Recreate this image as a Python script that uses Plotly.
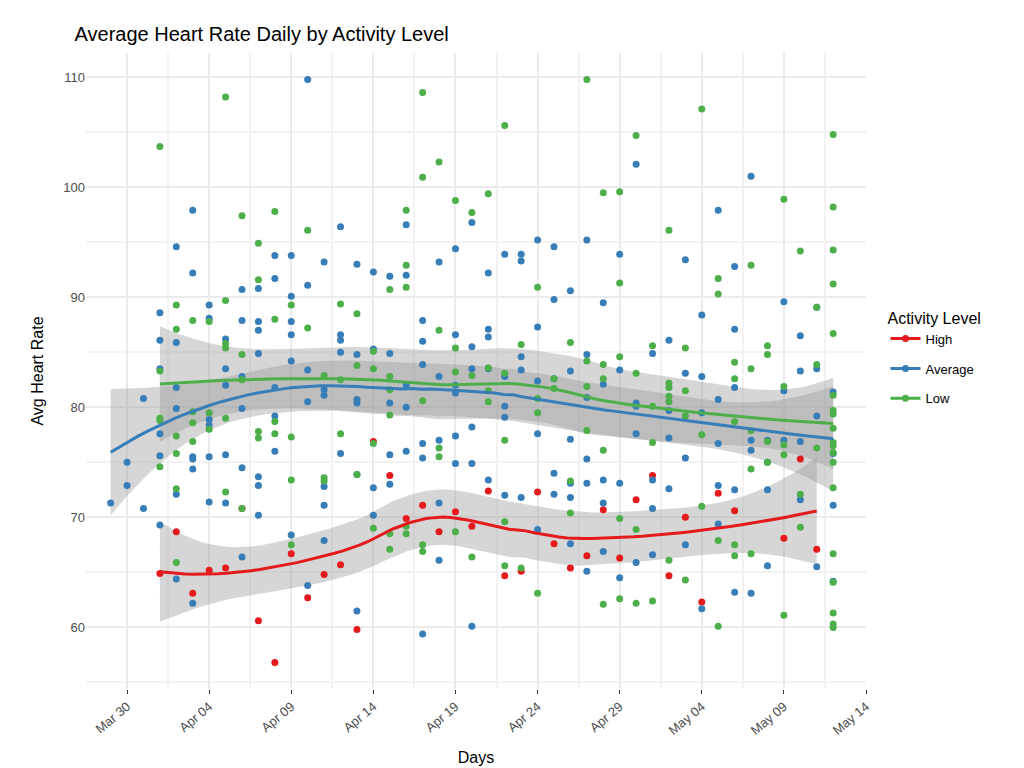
import numpy as np
import pandas as pd
import plotly.graph_objects as go

start = pd.Timestamp('2024-03-29')

# day offset from Mar 29 -> values, per activity level
high_days = [3, 4, 5, 6, 7, 8, 9, 10, 11, 12, 13, 14, 15, 16, 17, 18, 19, 20, 21, 22,
             23, 24, 25, 26, 27, 28, 29, 30, 31, 32, 33, 34, 35, 36, 37, 38, 41, 42, 43]
high_vals = [64.9, 68.7, 63.1, 65.2, 65.4, 70.8, 60.6, 56.8, 66.7, 62.7, 64.8, 65.7, 59.8, 76.9,
             73.8, 69.9, 71.1, 68.7, 70.5, 69.2, 72.4, 64.7, 65.1, 72.3, 67.6, 65.4, 66.5, 70.7,
             66.3, 71.6, 73.8, 64.7, 70.0, 62.3, 72.2, 70.6, 68.1, 75.3, 67.1]

avg_days = [0, 1, 1, 2, 2,
            3, 3, 3, 3, 3, 3,
            4, 4, 4, 4, 4, 4,
            5, 5, 5, 5, 5, 5,
            6, 6, 6, 6, 6, 6,
            7, 7, 7, 7, 7,
            8, 8, 8, 8, 8, 8,
            9, 9, 9, 9, 9, 9, 9,
            10, 10, 10, 10, 10,
            11, 11, 11, 11, 11, 11,
            12, 12, 12, 12, 12,
            13, 13, 13, 13, 13, 13,
            14, 14, 14, 14, 14,
            15, 15, 15, 15, 15, 15,
            16, 16, 16, 16,
            17, 17, 17, 17, 17,
            18, 18, 18, 18, 18,
            19, 19, 19, 19, 19, 19,
            20, 20, 20, 20, 20,
            21, 21, 21, 21, 21, 21,
            22, 22, 22, 22, 22, 22,
            23, 23, 23, 23, 23,
            24, 24, 24, 24, 24,
            25, 25, 25, 25, 25,
            26, 26, 26, 26, 26,
            27, 27, 27, 27, 27,
            28, 28, 28, 28, 28, 28,
            29, 29, 29, 29, 29, 29,
            30, 30, 30, 30, 30,
            31, 31, 31, 31,
            32, 32, 32, 32, 32,
            33, 33, 33, 33,
            34, 34, 34, 34,
            35, 35, 35, 35,
            36, 36, 36, 36,
            37, 37, 37, 37, 37,
            38, 38, 38, 38, 38,
            39, 39, 39, 39,
            40, 40, 40, 40,
            41, 41, 41,
            42, 42, 42, 42,
            43, 43, 43, 43,
            44, 44, 44, 44]
avg_vals = [71.3, 75.0, 72.9, 80.8, 70.8,
            88.6, 86.1, 83.5, 77.6, 75.6, 69.3,
            94.6, 85.9, 81.8, 79.9, 72.1, 64.4,
            97.9, 92.2, 75.5, 75.3, 74.4, 62.2,
            89.3, 88.1, 78.9, 78.4, 75.5, 71.4,
            86.2, 83.5, 82.0, 75.7, 71.3,
            90.7, 87.9, 82.8, 79.9, 74.5, 66.4,
            90.8, 87.8, 87.0, 84.9, 73.7, 72.9, 70.2,
            93.8, 91.7, 81.8, 79.2, 76.0,
            93.8, 90.1, 87.8, 86.6, 84.2, 68.4,
            109.8, 91.1, 83.4, 80.5, 63.8,
            93.2, 81.6, 81.1, 72.8, 71.1, 67.9,
            96.4, 86.6, 86.1, 85.0, 75.8,
            93.0, 84.8, 80.7, 80.4, 73.9, 61.5,
            92.3, 85.3, 72.7, 70.2,
            91.9, 84.9, 80.4, 75.7, 73.0,
            96.6, 92.0, 82.0, 80.0, 76.0,
            87.9, 86.0, 83.9, 76.7, 75.4, 59.4,
            93.2, 82.8, 77.0, 71.3, 66.1,
            94.4, 86.6, 82.0, 81.3, 77.4, 74.9,
            96.8, 85.5, 83.5, 78.2, 74.9, 60.1,
            92.2, 87.1, 86.4, 83.5, 73.4,
            93.9, 82.8, 80.1, 79.1, 72.0,
            93.9, 93.3, 84.6, 83.4, 71.8,
            95.2, 87.3, 82.4, 77.6, 68.9,
            94.6, 89.8, 82.6, 74.0, 72.1,
            90.6, 83.3, 77.1, 73.1, 71.8, 67.6,
            95.2, 84.8, 80.9, 75.3, 73.1, 65.1,
            89.5, 82.1, 73.4, 71.3, 66.9,
            93.9, 83.4, 73.1, 64.5,
            102.1, 80.4, 80.1, 77.6, 65.9,
            84.9, 73.4, 70.8, 66.6,
            86.1, 79.7, 77.2, 72.6,
            93.4, 83.1, 75.4, 67.5,
            88.4, 82.8, 79.5, 61.7,
            97.9, 80.7, 76.7, 72.9, 69.4,
            92.8, 87.1, 81.8, 72.5, 63.2,
            101.0, 77.0, 76.1, 63.1,
            77.0, 75.0, 72.5, 65.6,
            89.6, 81.5, 77.0,
            86.5, 83.3, 76.9, 71.6,
            89.1, 83.5, 79.2, 65.5,
            81.4, 75.8, 71.1, 64.2]

low_days = [3, 3, 3, 3, 3,
            4, 4, 4, 4, 4, 4,
            5, 5, 5, 5,
            6, 6, 6,
            7, 7, 7, 7, 7, 7,
            8, 8, 8, 8,
            9, 9, 9, 9,
            10, 10, 10, 10,
            11, 11, 11, 11,
            12, 12,
            13, 13, 13,
            14, 14, 14,
            15, 15, 15,
            16, 16, 16, 16,
            17, 17, 17, 17, 17, 17,
            18, 18, 18, 18, 18,
            19, 19, 19, 19, 19,
            20, 20, 20, 20,
            21, 21, 21, 21,
            22, 22, 22,
            23, 23, 23, 23,
            24, 24, 24, 24, 24,
            25, 25,
            26, 26, 26, 26,
            27, 27,
            28, 28, 28,
            29, 29, 29, 29,
            30, 30, 30, 30, 30,
            31, 31, 31, 31, 31,
            32, 32, 32, 32,
            33, 33, 33, 33,
            34, 34, 34, 34, 34, 34,
            35, 35, 35, 35,
            36, 36, 36,
            37, 37, 37, 37,
            38, 38, 38, 38, 38,
            39, 39, 39, 39, 39,
            40, 40, 40, 40,
            41, 41, 41, 41, 41,
            42, 42, 42,
            43, 43, 43,
            44, 44, 44]
low_vals = [103.7, 83.3, 79.0, 78.8, 74.6,
            89.3, 87.1, 77.4, 75.8, 72.6, 65.9,
            87.9, 79.6, 78.6, 76.9,
            87.8, 79.5, 78.0, 72.3,
            108.2, 89.7, 85.8, 85.4, 79.0, 70.8,
            97.4, 84.8, 82.5, 77.8, 77.2,
            94.9, 91.6, 88.0, 78.7, 77.6,
            97.8, 89.3, 77.3, 73.4, 67.5,
            96.1, 87.2, 82.9, 73.6, 73.3,
            89.4, 82.5, 77.6,
            88.5, 83.8, 73.9,
            83.5, 76.7, 69.0,
            85.1, 82.8, 68.5, 67.1,
            90.7, 81.6, 79.3, 69.2, 68.5,
            97.9, 92.9, 90.9, 80.6, 67.5, 66.9,
            108.6, 100.9, 87.0, 76.3, 75.5,
            102.3, 98.8, 85.4, 83.2, 68.7, 66.4,
            97.7, 82.9, 81.5, 80.5,
            99.4, 83.6, 83.1, 65.6,
            105.6, 77.0, 69.6, 65.4,
            85.7, 80.8, 79.5, 63.1,
            90.9, 82.6, 81.7, 73.3, 70.4,
            85.9, 81.9, 77.9,
            109.8, 84.2, 83.9, 76.1, 62.1,
            99.5, 82.6,
            99.6, 91.3, 69.9, 62.6,
            84.6, 83.1, 68.9, 62.2,
            104.7, 85.6, 80.1, 76.8, 62.4,
            82.2, 81.8, 81.0, 80.5, 66.1,
            96.1, 85.4, 81.5, 79.2, 64.3,
            107.1, 77.5, 71.0, 67.9, 60.1,
            91.7, 90.3, 84.1, 78.7, 67.5, 66.5,
            82.6, 77.9, 74.4, 66.7,
            92.9, 83.5, 76.9, 75.0,
            85.6, 84.8, 81.9, 61.1,
            98.9, 76.6, 75.7, 72.1, 69.1,
            94.2, 89.1, 83.9, 76.3, 66.7,
            104.8, 81.1, 78.1, 76.8,
            98.2, 86.7, 79.4, 76.5, 64.1,
            75.9, 72.7, 61.3,
            91.2, 75.0, 60.0,
            94.3, 79.7, 60.3]

# fix group lengths (some columns read with one extra value)
low_days = low_days[:len(low_vals)] + [low_days[-1]] * (len(low_vals) - len(low_days))
avg_days = avg_days[:len(avg_vals)] + [avg_days[-1]] * (len(avg_vals) - len(avg_days))


def loess(x, y, span=0.75, n_out=80):
    # local quadratic fit with tricube weights, like geom_smooth's default
    x = np.asarray(x, float)
    y = np.asarray(y, float)
    n = len(x)
    q = int(np.floor(span * n))

    def weights_row(x0):
        d = np.abs(x - x0)
        h = np.sort(d)[q - 1]
        w = np.clip(1 - (d / h) ** 3, 0, None) ** 3
        X = np.column_stack([np.ones(n), x - x0, (x - x0) ** 2])
        W = np.diag(w)
        A = np.linalg.pinv(X.T @ W @ X) @ X.T @ W
        return A[0]

    L = np.array([weights_row(xi) for xi in x])
    res = y - L @ y
    dof = n - np.trace(L)
    sigma = np.sqrt(np.sum(res ** 2) / dof)
    xs = np.linspace(x.min(), x.max(), n_out)
    fit, se = [], []
    for x0 in xs:
        l = weights_row(x0)
        fit.append(l @ y)
        se.append(sigma * np.sqrt(np.sum(l ** 2)))
    return xs, np.array(fit), np.array(se)


groups = [
    ('High', high_days, high_vals, '#E41A1C'),
    ('Average', avg_days, avg_vals, '#377EB8'),
    ('Low', low_days, low_vals, '#4DAF4A'),
]

fig = go.Figure()

for name, days, vals, color in groups:
    xs, fit, se = loess(days, vals)
    dates = start + pd.to_timedelta(xs, unit='D')
    fig.add_trace(go.Scatter(
        x=list(dates) + list(dates[::-1]),
        y=list(fit + 1.97 * se) + list((fit - 1.97 * se)[::-1]),
        fill='toself', fillcolor='rgba(153,153,153,0.4)',
        line=dict(width=0), hoverinfo='skip', showlegend=False))

for name, days, vals, color in groups:
    fig.add_trace(go.Scatter(
        x=start + pd.to_timedelta(days, unit='D'), y=vals,
        mode='markers', marker=dict(color=color, size=7),
        name=name, legendgroup=name, showlegend=False))

for name, days, vals, color in groups:
    xs, fit, se = loess(days, vals)
    fig.add_trace(go.Scatter(
        x=start + pd.to_timedelta(xs, unit='D'), y=fit,
        mode='lines+markers', line=dict(color=color, width=3),
        marker=dict(size=[0] * len(xs), color=color),
        name=name, legendgroup=name, showlegend=False))
    fig.add_trace(go.Scatter(
        x=[None], y=[None], mode='lines+markers',
        line=dict(color=color, width=3), marker=dict(color=color, size=7),
        name=name, legendgroup=name))

grid = '#EBEBEB'
fig.update_layout(
    width=1024, height=768,
    paper_bgcolor='white', plot_bgcolor='white',
    font=dict(family='Liberation Sans, Arial', color='#4D4D4D', size=13),
    title=dict(text='Average Heart Rate Daily by Activity Level', x=0.065, y=0.975,
               font=dict(size=20, color='black')),
    margin=dict(l=78, r=166, t=45, b=85),
    legend=dict(title=dict(text='Activity Level', font=dict(size=16, color='black')),
                x=1.025, y=0.52, yanchor='middle', font=dict(size=13, color='black'),
                itemwidth=30),
    xaxis=dict(
        title=dict(text='Days', font=dict(size=16, color='black')),
        range=[start - pd.Timedelta(days=1.5), start + pd.Timedelta(days=46)],
        tick0='2024-03-30', dtick=5 * 86400000, tickformat='%b %d', tickangle=-40,
        showgrid=True, gridcolor=grid, gridwidth=1.5, zeroline=False, showline=False,
        ticks='outside', ticklen=4, tickcolor='#333333',
        minor=dict(tick0='2024-03-27 12:00', dtick=5 * 86400000, showgrid=True,
                   gridcolor='#F3F3F3', ticks='')),
    yaxis=dict(
        title=dict(text='Avg Heart Rate', font=dict(size=16, color='black')),
        range=[54.4, 112.2], dtick=10, showgrid=True, gridcolor=grid, gridwidth=1.5,
        zeroline=False, showline=False,
        minor=dict(dtick=5, showgrid=True, gridcolor='#F3F3F3')),
)

fig.write_html('out.html')
